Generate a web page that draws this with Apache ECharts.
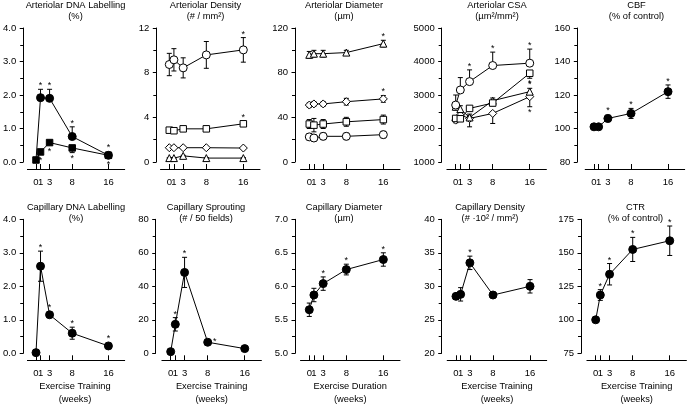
<!DOCTYPE html>
<html><head><meta charset="utf-8">
<script src="https://cdn.jsdelivr.net/npm/echarts@6/dist/echarts.min.js"></script>
<style>html,body{margin:0;padding:0;background:#fff}#c{width:688px;height:405px}</style>
</head><body><div id="c"></div>
<script>
const weeks = [0, 1, 3, 8, 16];
const weekTicks = [0, 1, 3, 8, 16];

// Arteriolar DNA labelling (%)
const aDnaCircle = [0.06, 1.92, 1.90, 0.76, 0.20];
const aDnaCircleErr = [0, 0.25, 0.27, 0.29, 0.04];
const aDnaCircleSig = [0, 1, 1, 1, 1];
const aDnaSquare = [0.06, 0.30, 0.58, 0.42, 0.20];
const aDnaSquareErr = [0, 0.04, 0.05, 0.14, 0.04];
const aDnaSquareSig = [0, -1, -1, -1, -1];

// Arteriolar density (#/mm2)
const aDensCircle = [8.73, 9.15, 8.43, 9.59, 10.04];
const aDensCircleErr = [1.0, 1.0, 0.9, 1.2, 1.1];
const aDensCircleSig = [0, 0, 0, 0, 1];
const aDensSquare = [2.85, 2.80, 2.97, 2.97, 3.42];
const aDensSquareErr = [0.1, 0.1, 0.12, 0.12, 0.15];
const aDensSquareSig = [0, 0, 0, 0, 1];
const aDensDiamond = [1.28, 1.28, 1.28, 1.28, 1.25];
const aDensDiamondErr = [0.05, 0.05, 0.05, 0.05, 0.05];
const aDensTriangle = [0.35, 0.35, 0.55, 0.35, 0.35];
const aDensTriangleErr = [0.05, 0.05, 0.05, 0.05, 0.05];

// Arteriolar diameter (um)
const aDiamTriangle = [96, 97, 97, 98, 106];
const aDiamTriangleErr = [3, 3, 3, 2, 3];
const aDiamTriangleSig = [0, 0, 0, 0, 1];
const aDiamDiamond = [51, 52, 52, 54, 56.5];
const aDiamDiamondErr = [2, 2, 2, 3, 3];
const aDiamDiamondSig = [0, 0, 0, 0, 1];
const aDiamSquare = [34, 33, 34, 36, 38];
const aDiamSquareErr = [4, 6, 4, 4, 4];
const aDiamCircle = [22.5, 21.5, 23, 23, 24.5];
const aDiamCircleErr = [3, 3, 3, 3, 3];

// Arteriolar CSA (um2/mm2)
const aCsaCircle = [2700, 3150, 3400, 3880, 3950];
const aCsaCircleErr = [300, 370, 350, 400, 420];
const aCsaCircleSig = [0, 0, 1, 1, 1];
const aCsaSquare = [2300, 2290, 2600, 2760, 3650];
const aCsaSquareErr = [60, 60, 60, 80, 150];
const aCsaSquareSig = [0, 0, 0, 0, -1];
const aCsaTriangle = [2650, 2580, 2330, 2830, 3100];
const aCsaTriangleErr = [100, 100, 100, 80, 100];
const aCsaTriangleSig = [0, 0, 0, 0, 1];
const aCsaDiamond = [2250, 2400, 2300, 2450, 2950];
const aCsaDiamondErr = [80, 100, 250, 300, 300];
const aCsaDiamondSig = [0, 0, 0, 0, -1];

// CBF (% of control)
const cbf = [101, 101, 106, 109, 122];
const cbfErr = [1, 1, 2, 3, 4];
const cbfSig = [0, 0, 1, 1, 1];

// Capillary DNA labelling (%)
const cDna = [0.02, 2.60, 1.15, 0.60, 0.22];
const cDnaErr = [0, 0.45, 0.06, 0.18, 0.05];
const cDnaSig = [0, 1, 1, 1, 1];

// Capillary sprouting (#/50 fields)
const sprout = [1, 17.3, 48.3, 6.6, 2.8];
const sproutErr = [0.5, 4, 9, 1, 0.5];
const sproutSig = [0, 1, 1, 2, 0];

// Capillary diameter (um)
const cDiam = [5.65, 5.87, 6.04, 6.25, 6.40];
const cDiamErr = [0.1, 0.1, 0.1, 0.08, 0.1];
const cDiamSig = [0, 0, 1, 1, 1];

// Capillary density (#·10^2/mm2)
const cDens = [28.5, 28.8, 33.5, 28.7, 30.0];
const cDensErr = [0.4, 1.0, 1.0, 0.3, 1.0];
const cDensSig = [0, 0, 1, 0, 0];

// CTR (% of control)
const ctr = [100, 118.5, 134, 152.5, 159];
const ctrErr = [0, 4, 8, 9, 11];
const ctrSig = [0, 1, 1, 1, 1];

const FONT = '"Liberation Sans", Arial, sans-serif';
const Z = [0, 0, 0, 0, 0];

const panels = [
  {t: ['Arteriolar DNA Labelling', '(%)'], tx: 75.5, row: 0, left: 25.2, yOff: 4.2, min: 0, max: 4, int: 1, dec: 1, ser: [
    {v: aDnaCircle, e: aDnaCircleErr, s: aDnaCircleSig, sym: 'circle', size: 8, fill: '#000', dir: 1, noFirst: true},
    {v: aDnaSquare, e: aDnaSquareErr, s: aDnaSquareSig, sym: 'rect', size: 6.5, fill: '#000', dir: -1}]},
  {t: ['Arteriolar Density', '(# / mm\u00b2)'], tx: 205.5, row: 0, left: 160.5, yOff: 4.2, min: 0, max: 12, int: 4, dec: 0, ser: [
    {v: aDensCircle, e: aDensCircleErr, s: aDensCircleSig, sym: 'circle', size: 8, fill: '#fff', dir: 0},
    {v: aDensSquare, e: aDensSquareErr, s: aDensSquareSig, sym: 'rect', size: 6.5, fill: '#fff', dir: 0},
    {v: aDensDiamond, e: aDensDiamondErr, s: Z, sym: 'diamond', size: 8, fill: '#fff', dir: 0},
    {v: aDensTriangle, e: aDensTriangleErr, s: Z, sym: 'triangle', size: 7, fill: '#fff', dir: 0}]},
  {t: ['Arteriolar Diameter', '(\u00b5m)'], tx: 344, row: 0, left: 300.5, yOff: 5.5, min: 0, max: 120, int: 40, dec: 0, ser: [
    {v: aDiamTriangle, e: aDiamTriangleErr, s: aDiamTriangleSig, sym: 'triangle', size: 7, fill: '#fff', dir: 0},
    {v: aDiamDiamond, e: aDiamDiamondErr, s: aDiamDiamondSig, sym: 'diamond', size: 8, fill: '#fff', dir: 0},
    {v: aDiamSquare, e: aDiamSquareErr, s: Z, sym: 'rect', size: 6.5, fill: '#fff', dir: 0},
    {v: aDiamCircle, e: aDiamCircleErr, s: Z, sym: 'circle', size: 8, fill: '#fff', dir: 0}]},
  {t: ['Arteriolar CSA', '(\u00b5m\u00b2/mm\u00b2)'], tx: 497, row: 0, left: 446.9, yOff: 5.2, min: 1000, max: 5000, int: 1000, dec: 0, ser: [
    {v: aCsaDiamond, e: aCsaDiamondErr, s: aCsaDiamondSig, sym: 'diamond', size: 8, fill: '#fff', dir: -1},
    {v: aCsaTriangle, e: aCsaTriangleErr, s: aCsaTriangleSig, sym: 'triangle', size: 7, fill: '#fff', dir: 0},
    {v: aCsaSquare, e: aCsaSquareErr, s: aCsaSquareSig, sym: 'rect', size: 6.5, fill: '#fff', dir: -1},
    {v: aCsaCircle, e: aCsaCircleErr, s: aCsaCircleSig, sym: 'circle', size: 8, fill: '#fff', dir: 1}]},
  {t: ['CBF', '(% of control)'], tx: 636.5, row: 0, left: 585.2, yOff: 7.9, min: 80, max: 160, int: 20, dec: 0, ser: [
    {v: cbf, e: cbfErr, s: cbfSig, sym: 'circle', size: 8, fill: '#000', dir: 0}]},
  {t: ['Capillary DNA Labelling', '(%)'], tx: 76, row: 1, left: 25.2, yOff: 4.2, min: 0, max: 4, int: 1, dec: 1, xName: ['Exercise Training', '(weeks)'], ser: [
    {v: cDna, e: cDnaErr, s: cDnaSig, sym: 'circle', size: 8, fill: '#000', dir: 0}]},
  {t: ['Capillary Sprouting', '(# / 50 fields)'], tx: 206, row: 1, left: 161.9, yOff: 6.2, min: 0, max: 80, int: 20, dec: 0, xName: ['Exercise Training', '(weeks)'], ser: [
    {v: sprout, e: sproutErr, s: sproutSig, sym: 'circle', size: 8, fill: '#000', dir: 0}]},
  {t: ['Capillary Diameter', '(\u00b5m)'], tx: 344, row: 1, left: 300.5, yOff: 5.5, min: 5, max: 7, int: 0.5, dec: 1, xName: ['Exercise Duration', '(weeks)'], ser: [
    {v: cDiam, e: cDiamErr, s: cDiamSig, sym: 'circle', size: 8, fill: '#000', dir: 0}]},
  {t: ['Capillary Density', '(# \u00b710\u00b2 / mm\u00b2)'], tx: 490, row: 1, left: 447.2, yOff: 5.5, min: 20, max: 40, int: 5, dec: 0, xName: ['Exercise Training', '(weeks)'], ser: [
    {v: cDens, e: cDensErr, s: cDensSig, sym: 'circle', size: 8, fill: '#000', dir: 0}]},
  {t: ['CTR', '(% of control)'], tx: 635.5, row: 1, left: 586.9, yOff: 5.9, min: 75, max: 175, int: 25, dec: 0, xName: ['Exercise Training', '(weeks)'], ser: [
    {v: ctr, e: ctrErr, s: ctrSig, sym: 'circle', size: 8, fill: '#000', dir: 0}]}
];

const ROW_TOP = [28, 219.3];
const TITLE_Y = [[5.3, 16.5], [207.3, 218.3]];
const GW = 99.5, GH = 134, XMIN = -1.9, XMAX = 19.6;
// a blank guard label at the axis start keeps ECharts' min-label overlap check away from "0"/"1"
const xLabelValues = [XMIN].concat(weekTicks);

const grid = [], xAxis = [], yAxis = [], series = [], graphic = [];

function errSeries(gi, ser) {
  return {
    type: 'custom', xAxisIndex: gi, yAxisIndex: gi, z: 2, silent: true, animation: false,
    data: weeks.map((w, i) => [w, ser.v[i], ser.e[i], ser.s[i]]),
    renderItem(params, api) {
      const x = api.value(0), y = api.value(1), e = api.value(2), s = api.value(3);
      const c = api.coord([x, y]);
      const up = api.coord([x, y + e])[1], dn = api.coord([x, y - e])[1];
      const top = ser.dir === -1 ? c[1] : up;
      const bot = ser.dir === 1 ? c[1] : dn;
      const ch = [];
      const ls = {stroke: '#000', lineWidth: 1};
      if (e > 0) {
        ch.push({type: 'line', shape: {x1: c[0], y1: top, x2: c[0], y2: bot}, style: ls});
        if (ser.dir !== -1) ch.push({type: 'line', shape: {x1: c[0] - 2.5, y1: top, x2: c[0] + 2.5, y2: top}, style: ls});
        if (ser.dir !== 1) ch.push({type: 'line', shape: {x1: c[0] - 2.5, y1: bot, x2: c[0] + 2.5, y2: bot}, style: ls});
      }
      const r = ser.size / 2;
      let sx = null, sy = null;
      if (s === 1) { sx = c[0]; sy = Math.min(top, c[1] - r) - 3.5; }
      else if (s === -1) { sx = c[0]; sy = Math.max(bot, c[1] + r) + 5.5; }
      else if (s === 2) { sx = c[0] + r + 3; sy = c[1] - 1; }
      if (sx !== null) {
        ch.push({type: 'text', x: sx, y: sy, style: {text: '*', align: 'center', verticalAlign: 'middle', font: '9px ' + FONT, fill: '#000'}});
      }
      return {type: 'group', children: ch};
    }
  };
}

panels.forEach((p, gi) => {
  const top = ROW_TOP[p.row];
  grid.push({left: p.left, top: top, width: GW, height: GH});
  xAxis.push({
    gridIndex: gi, type: 'value', min: XMIN, max: XMAX, offset: 7,
    axisLine: {show: true, onZero: false, lineStyle: {color: '#000', width: 1}},
    axisTick: {show: true, inside: true, length: 5, customValues: weekTicks, lineStyle: {color: '#000', width: 1}},
    axisLabel: {show: true, customValues: xLabelValues, fontSize: 9.5, color: '#000', margin: 8, fontFamily: FONT,
      hideOverlap: false, showMinLabel: true, showMaxLabel: true,
      formatter: v => (v < -1 ? ' ' : String(v))},
    splitLine: {show: false}, minorTick: {show: false}
  });
  yAxis.push({
    gridIndex: gi, type: 'value', min: p.min, max: p.max, interval: p.int, offset: p.yOff,
    axisLine: {show: true, onZero: false, lineStyle: {color: '#000', width: 1}},
    axisTick: {show: true, inside: false, length: 3.5, lineStyle: {color: '#000', width: 1}},
    minorTick: {show: true, splitNumber: 2, length: 3, lineStyle: {color: '#000', width: 1}},
    axisLabel: {fontSize: 9.5, color: '#000', margin: 7, fontFamily: FONT, showMinLabel: true, showMaxLabel: true,
      formatter: v => p.dec ? Number(v).toFixed(p.dec) : String(Math.round(v))},
    splitLine: {show: false}, minorSplitLine: {show: false}
  });
  p.ser.forEach((ser) => {
    series.push(errSeries(gi, ser));
    series.push({
      type: 'line', xAxisIndex: gi, yAxisIndex: gi, z: 3, animation: false, silent: true,
      symbol: ser.sym, symbolSize: ser.size, showAllSymbol: true,
      lineStyle: {color: '#000', width: 1},
      itemStyle: {color: ser.fill, borderColor: '#000', borderWidth: 1},
      emphasis: {disabled: true},
      data: weeks.map((w, i) => ({value: [w, ser.v[i]], symbol: (ser.noFirst && i === 0) ? 'none' : ser.sym}))
    });
  });
  const ty = TITLE_Y[p.row];
  p.t.forEach((line, k) => {
    graphic.push({type: 'text', x: p.tx, y: ty[k], silent: true,
      style: {text: line, align: 'center', verticalAlign: 'middle', font: '9.3px ' + FONT, fill: '#000'}});
  });
  if (p.xName) {
    const cx = p.left + GW / 2;
    graphic.push({type: 'text', x: cx, y: 386.7, silent: true,
      style: {text: p.xName[0], align: 'center', verticalAlign: 'middle', font: '9.3px ' + FONT, fill: '#000'}});
    graphic.push({type: 'text', x: cx, y: 399.5, silent: true,
      style: {text: p.xName[1], align: 'center', verticalAlign: 'middle', font: '9.3px ' + FONT, fill: '#000'}});
  }
});

const chart = echarts.init(document.getElementById('c'), null, {renderer: 'canvas'});
chart.setOption({
  backgroundColor: '#fff', animation: false,
  textStyle: {fontFamily: FONT},
  grid, xAxis, yAxis, series, graphic
});
</script>
</body></html>
